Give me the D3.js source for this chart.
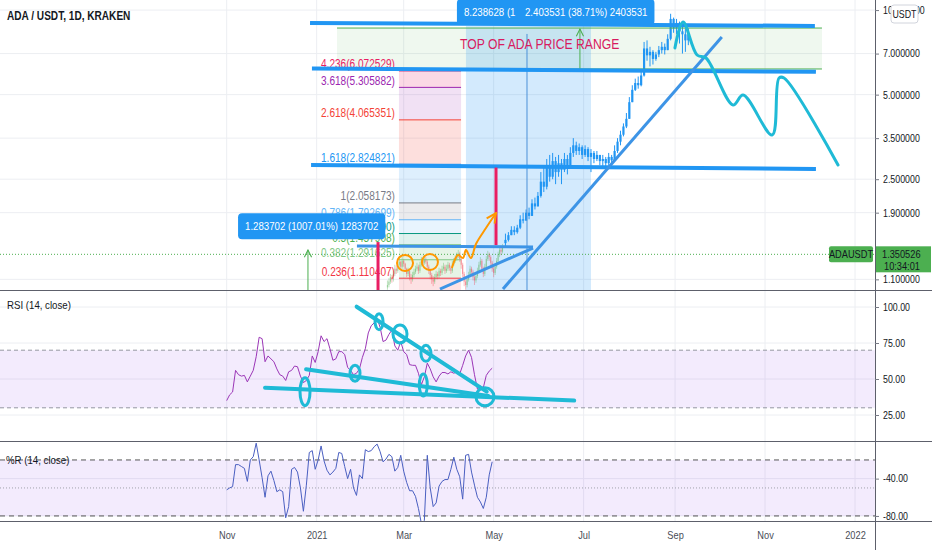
<!DOCTYPE html>
<html>
<head>
<meta charset="utf-8">
<script src="https://cdn.jsdelivr.net/npm/d3@7"></script>
<style>
  body { margin: 0; background: #fff; }
  svg text { font-family: 'Liberation Sans', Arial, sans-serif; }
</style>
</head>
<body>
<svg id="chart" width="932" height="550"></svg>
<script>
var width = 932, height = 550
var axisX = 875
var squeeze = 0.84   // TradingView's font is narrower than Liberation Sans

var monthTicks = ["2020-11-01", "2021-01-01", "2021-03-01", "2021-05-01", "2021-07-01", "2021-09-01", "2021-11-01", "2022-01-01"]
var monthLabels = ["Nov", "2021", "Mar", "May", "Jul", "Sep", "Nov", "2022"]
var priceTicks = [10, 7, 5, 3.5, 2.5, 1.9, 1.1]
var rsiTicks = [100, 75, 50, 25]
var wrTicks = [-40, -80]

// visible candles, one bar every 2 days, open = previous close
var candleStart = "2021-05-09", candleStep = 2
var candleFirstOpen = 1.48
var candleClose = [
  1.52,1.58,1.65,1.62,1.68,1.80,1.78,1.90,1.85,2.05,
  2.00,2.18,2.45,2.35,2.75,2.55,2.90,2.65,2.85,2.70,
  2.95,2.80,3.10,3.30,3.15,3.25,3.05,3.20,3.00,3.10,
  2.95,3.05,2.90,2.95,2.85,3.00,2.92,3.15,3.40,3.60,
  3.85,4.10,4.70,5.20,5.50,5.40,5.85,7.30,6.90,7.10,
  6.70,6.95,7.20,7.40,7.20,7.90,9.30,8.60,9.00,8.40,
  8.20,7.80,8.20
]
var candleHigh = [
  1.60,1.62,1.70,1.70,1.72,1.86,1.90,1.95,1.98,2.12,
  2.15,2.25,2.65,2.80,2.95,3.05,3.10,3.00,3.05,2.95,
  3.10,3.05,3.25,3.50,3.40,3.35,3.30,3.30,3.25,3.20,
  3.15,3.15,3.05,3.05,3.00,3.10,3.05,3.30,3.50,3.72,
  3.95,4.30,4.90,5.40,5.70,5.80,6.05,7.70,7.80,7.40,
  7.20,7.10,7.45,7.70,7.60,8.20,9.70,9.40,9.30,9.10,
  8.80,8.60,8.60
]
var candleLow = [
  1.44,1.50,1.58,1.58,1.60,1.66,1.74,1.80,1.80,1.88,
  1.95,2.02,2.15,2.25,2.30,2.45,2.50,2.40,2.55,2.40,
  2.65,2.60,2.75,3.00,3.05,3.05,2.95,3.00,2.90,2.65,
  2.85,2.90,2.80,2.75,2.72,2.80,2.82,2.90,3.10,3.30,
  3.55,3.80,4.10,4.70,5.15,5.25,5.35,5.80,6.60,6.30,
  6.40,6.60,6.80,7.00,6.95,7.30,7.80,8.30,8.20,7.60,
  7.00,7.10,7.50
]

// faded older daily candles under the fib tool
var oldStart = "2021-02-18"
var oldFirstOpen = 1.03
var oldClose = [
  1.05,1.08,1.12,1.10,1.15,1.20,1.18,1.24,1.27,1.22,
  1.28,1.25,1.20,1.15,1.18,1.12,1.10,1.14,1.17,1.20,
  1.22,1.18,1.24,1.28,1.26,1.30,1.27,1.22,1.18,1.14,
  1.10,1.08,1.12,1.15,1.13,1.18,1.16,1.20,1.22,1.18,
  1.20,1.24,1.21,1.18,1.25,1.28,1.30,1.33,1.36,1.30,
  1.24,1.15,1.08,1.05,1.10,1.14,1.20,1.17,1.12,1.09,
  1.13,1.18,1.24,1.28,1.20,1.15,1.22,1.30,1.35,1.32,
  1.26,1.20,1.16,1.22,1.28,1.35,1.40,1.38,1.44
]
var oldHigh = [
  1.09,1.11,1.15,1.14,1.18,1.24,1.23,1.27,1.31,1.28,
  1.32,1.30,1.26,1.21,1.21,1.19,1.15,1.17,1.20,1.23,
  1.26,1.24,1.27,1.32,1.30,1.34,1.32,1.29,1.24,1.20,
  1.16,1.13,1.15,1.18,1.17,1.21,1.20,1.23,1.26,1.24,
  1.24,1.27,1.26,1.23,1.28,1.31,1.34,1.37,1.40,1.38,
  1.32,1.26,1.17,1.10,1.13,1.17,1.23,1.22,1.19,1.14,
  1.16,1.21,1.27,1.32,1.30,1.22,1.25,1.33,1.39,1.37,
  1.34,1.28,1.22,1.25,1.31,1.38,1.44,1.43,1.47
]
var oldLow = [
  1.01,1.03,1.06,1.07,1.08,1.13,1.15,1.16,1.22,1.19,
  1.20,1.22,1.17,1.12,1.13,1.09,1.06,1.08,1.12,1.15,
  1.18,1.15,1.16,1.22,1.23,1.24,1.25,1.19,1.15,1.10,
  1.06,1.04,1.06,1.10,1.10,1.11,1.13,1.14,1.18,1.15,
  1.16,1.18,1.18,1.15,1.16,1.23,1.26,1.28,1.31,1.27,
  1.20,1.12,1.04,1.01,1.03,1.08,1.12,1.14,1.09,1.05,
  1.07,1.11,1.16,1.22,1.17,1.12,1.13,1.20,1.28,1.28,
  1.22,1.17,1.12,1.14,1.20,1.26,1.32,1.34,1.36
]

// indicators, one value every 2 days
var indStart = "2020-11-01", indStep = 2
var rsiValues = [
  35,39,41,56,53,52,52.5,48,52,56,
  65.5,79,78,62,66,64,62,57,53,52,
  49,55,56,59,58.5,52,47.5,49,52.5,66,
  61.5,69,80,76,78,71,63,64,69,69,
  67,58,56,53,54,57,65,71,82,87,
  89,92,86,76,77,81,84,73,70,76,
  69,67,60,59.5,59.5,54,46,51.5,61,57,
  51.5,48,52,54.5,54.5,53.5,55,54,55,53.5,
  59.5,66,70,65,53,43,45,44,52.5,55.5,
  57.5
]
var wrValues = [
  -52,-50,-48.6,-25,-25,-27,-29,-43,-20,-16.5,
  -2,-20,-39,-60,-37,-32,-42,-54,-52,-54,
  -82,-70,-30,-28,-33,-50,-75,-47,-12,-10,
  -30,-20,-5,-21,-31,-36,-33,-29,-12,-13,
  -27,-40,-30,-50,-58,-36,-40,-9,-11,-10,
  -5.8,-3,-11,-22,-19,-14,-16.5,-32,-28,-15,
  -32,-44,-53,-53,-59,-72,-88,-85,-15,-50,
  -70,-66,-48,-43,-41,-41,-30,-17,-30,-38,
  -62,-15,-14,-33,-47,-60,-65,-72,-60,-36,
  -22
]

var fibRatio = ["4.236", "3.618", "2.618", "1.618", "1", "0.786", "0.618", "0.5", "0.382", "0.236"]
var fibPrice = [6.072529, 5.305882, 4.065351, 2.824821, 2.058173, 1.792699, 1.601490, 1.457908, 1.291625, 1.110407]
var fibColor = ["#e91e63", "#9c27b0", "#f44336", "#2196f3", "#787b86", "#64b5f6", "#089981", "#4caf50", "#81c784", "#f23645"]
var fibSpan = [116.8, 158.9]

var lastPrice = 1.350526, lastTime = "10:34:01", symbol = "ADAUSDT"

// drawings, anchored as [days since 2020-11-01, price]
var levelLines = [[56.5, 9.00, 398.8, 8.78], [57.8, 6.20, 399.5, 6.03], [57.2, 2.81, 399.5, 2.72]]
var thinLines = [[88.3, 1.446, 207.7, 1.434], [144.6, 1.016, 207.7, 1.422], [187.3, 1.016, 335.7, 8.02]]
var rangeBox = [74.8, 403.6, 8.63, 6.17]
var dateBox = [162.2, 247, 8.78]
var dateBoxLine = 203.6
var redLines = [[102.6, 1.493, 1.008], [182.6, 2.75, 1.457]]
var projection = [[303.9, 7.33], [309.4, 9.07], [318.9, 6.92], [325, 6.75], [343.3, 4.59], [350.1, 4.98], [369.8, 3.59], [374.5, 5.73], [377.9, 5.73], [414.5, 2.81]]
var orangeRings = [[120.9, 1.258], [137.8, 1.268]]
var orangePath = [[152.7, 1.207], [156.8, 1.343], [160.2, 1.310], [162.2, 1.399], [165.6, 1.310], [169, 1.470], [175.8, 1.675], [182.6, 1.894]]
var measureLow = [7.7, 1.70, "1.283702 (1007.01%) 1283702", 55.1, 1.399]
var measureTop = [[156.1, "8.238628 (1"], [197.5, "2.403531 (38.71%) 2403531"]]
var topText = [158.2, 7.57, "TOP OF ADA PRICE RANGE"]

var rsiLines = [[26, 44, 235.6, 35], [53.8, 56.7, 177.4, 38.2], [88.1, 100.2, 176.3, 41.2]]
var rsiRings = [[53.1, 41.2], [87, 54], [103.3, 89.8], [117.5, 81.3], [135.1, 67.8], [133.3, 45.8], [175.1, 37.7]]
var ringSize = [[5, 14], [5, 8], [4, 8], [7, 9], [5, 8], [4, 11], [9, 9]]

var parse = d3.timeParse("%Y-%m-%d")
var t0 = parse("2020-11-01")
function day(n) { return new Date(t0.getTime() + n * 864e5) }
function fixed(n) { return function(d) { return d.toFixed(n) } }

var x = d3.scaleTime().domain([t0, parse("2022-01-01")]).range([226.7, 855])
var y = d3.scaleLog().domain([1.008, 10.86]).range([290, 0])
var yRsi = d3.scaleLinear().domain([0, 100]).range([451, 307])
var yWr = d3.scaleLinear().domain([-100, 0]).range([534.6, 441.3])

var svg = d3.select('#chart')
var defs = svg.append('defs')

function narrow(node) {
  var len = node.getComputedTextLength() * squeeze
  d3.select(node).attr('textLength', len).attr('lengthAdjust', 'spacingAndGlyphs')
  return len
}

function clip(id, y0, h) {
  defs.append('clipPath').attr('id', id).append('rect')
    .attr('x', 0).attr('y', y0).attr('width', axisX).attr('height', h)
}
clip('clipMain', 0, 290)
clip('clipRsi', 291, 150)
clip('clipWr', 442, 79)

function marker(id, color, size, sw) {
  defs.append('marker').attr('id', id)
    .attr('viewBox', '0 0 10 10').attr('refX', 9).attr('refY', 5)
    .attr('markerWidth', size).attr('markerHeight', size)
    .attr('markerUnits', 'userSpaceOnUse').attr('orient', 'auto')
    .append('path').attr('d', 'M1,1 L9,5 L1,9')
    .attr('fill', 'none').attr('stroke', color).attr('stroke-width', sw)
}
marker('arrGreen', '#4caf50', 9, 1.2)
marker('arrOrange', '#ff9800', 12, 1.6)

var gridColor = '#eceef2'
var monthDates = monthTicks.map(parse)

// grid
var grid = svg.append('g')
grid.selectAll('.vg').data(monthDates).join('line')
  .attr('x1', function(d) { return x(d) }).attr('x2', function(d) { return x(d) })
  .attr('y1', 0).attr('y2', 521).attr('stroke', gridColor)
grid.selectAll('.hg').data(priceTicks).join('line')
  .attr('x1', 0).attr('x2', axisX)
  .attr('y1', function(d) { return y(d) }).attr('y2', function(d) { return y(d) })
  .attr('stroke', gridColor)
grid.selectAll('.rg').data(rsiTicks).join('line')
  .attr('x1', 0).attr('x2', axisX)
  .attr('y1', function(d) { return yRsi(d) }).attr('y2', function(d) { return yRsi(d) })
  .attr('stroke', gridColor)
grid.selectAll('.wg').data(wrTicks).join('line')
  .attr('x1', 0).attr('x2', axisX)
  .attr('y1', function(d) { return yWr(d) }).attr('y2', function(d) { return yWr(d) })
  .attr('stroke', gridColor)

// ---------- main pane ----------
var main = svg.append('g').attr('clip-path', 'url(#clipMain)')

main.append('rect')
  .attr('x', x(day(rangeBox[0]))).attr('y', y(rangeBox[2]))
  .attr('width', x(day(rangeBox[1])) - x(day(rangeBox[0])))
  .attr('height', y(rangeBox[3]) - y(rangeBox[2]))
  .attr('fill', 'rgba(76,175,80,0.09)')

main.append('rect')
  .attr('x', x(day(dateBox[0]))).attr('y', y(dateBox[2]))
  .attr('width', x(day(dateBox[1])) - x(day(dateBox[0])))
  .attr('height', 290 - y(dateBox[2]))
  .attr('fill', 'rgba(33,150,243,0.2)')

// fib zones
var fibFill = ["rgba(233,30,99,0.17)", "rgba(156,39,176,0.14)", "rgba(244,67,54,0.17)", "rgba(33,150,243,0.15)",
  "rgba(120,123,134,0.15)", "rgba(100,181,246,0.15)", "rgba(8,153,129,0.13)", "rgba(76,175,80,0.14)",
  "rgba(129,199,132,0.2)", "rgba(242,54,69,0.15)"]
var fx0 = x(day(fibSpan[0])), fx1 = x(day(fibSpan[1]))
main.selectAll('.fz').data(fibPrice).join('rect')
  .attr('x', fx0).attr('width', fx1 - fx0)
  .attr('y', function(d) { return y(d) })
  .attr('height', function(d, i) { return (i < fibPrice.length - 1 ? y(fibPrice[i + 1]) : 290) - y(d) })
  .attr('fill', function(d, i) { return fibFill[i] })

function makeCandles(start, step, firstOpen, close, high, low) {
  var s = parse(start)
  return close.map(function(c, i) {
    var o = i ? close[i - 1] : firstOpen
    return { date: d3.timeDay.offset(s, i * step), open: o, close: c,
      high: Math.max(high[i], o, c), low: Math.min(low[i], o, c) }
  })
}
var oldCandles = makeCandles(oldStart, 1, oldFirstOpen, oldClose, oldHigh, oldLow)
var candles = makeCandles(candleStart, candleStep, candleFirstOpen, candleClose, candleHigh, candleLow)

function drawCandles(g, data, colorFn, bodyW) {
  g.selectAll('line').data(data).join('line')
    .attr('x1', function(d) { return x(d.date) }).attr('x2', function(d) { return x(d.date) })
    .attr('y1', function(d) { return y(d.high) }).attr('y2', function(d) { return y(d.low) })
    .attr('stroke', colorFn).attr('stroke-width', 1)
  g.selectAll('rect').data(data).join('rect')
    .attr('x', function(d) { return x(d.date) - bodyW / 2 }).attr('width', bodyW)
    .attr('y', function(d) { return y(Math.max(d.open, d.close)) })
    .attr('height', function(d) { return Math.max(1, Math.abs(y(d.open) - y(d.close))) })
    .attr('fill', colorFn)
}
drawCandles(main.append('g'), oldCandles, function(d) {
  return d.close >= d.open ? 'rgba(76,175,80,0.35)' : 'rgba(242,54,69,0.35)'
}, 1.2)
drawCandles(main.append('g'), candles, function() { return '#2196f3' }, 2.2)

// fib lines and labels
main.selectAll('.fl').data(fibPrice).join('line')
  .attr('x1', fx0).attr('x2', fx1)
  .attr('y1', function(d) { return y(d) }).attr('y2', function(d) { return y(d) })
  .attr('stroke', function(d, i) { return fibColor[i] }).attr('stroke-width', 1)
main.selectAll('.ft').data(fibPrice).join('text')
  .attr('x', fx0 - 4).attr('y', function(d) { return y(d) - 2.5 })
  .attr('text-anchor', 'end').attr('font-size', 12)
  .attr('fill', function(d, i) { return fibColor[i] })
  .text(function(d, i) { return fibRatio[i] + '(' + d.toFixed(6) + ')' })

// last price dotted line
main.append('line').attr('x1', 0).attr('x2', axisX)
  .attr('y1', y(lastPrice)).attr('y2', y(lastPrice))
  .attr('stroke', '#4caf50').attr('stroke-dasharray', '1 2')

// range box borders and arrows
main.selectAll('.rb').data([rangeBox[2], rangeBox[3]]).join('line')
  .attr('x1', x(day(rangeBox[0]))).attr('x2', x(day(rangeBox[1])))
  .attr('y1', function(d) { return y(d) }).attr('y2', function(d) { return y(d) })
  .attr('stroke', '#4caf50').attr('stroke-width', 1)
main.append('line')
  .attr('x1', x(day(239.5))).attr('x2', x(day(239.5)))
  .attr('y1', y(rangeBox[3])).attr('y2', y(rangeBox[2]) + 1)
  .attr('stroke', '#4caf50').attr('marker-end', 'url(#arrGreen)')
main.append('line')
  .attr('x1', x(day(measureLow[3]))).attr('x2', x(day(measureLow[3])))
  .attr('y1', 290).attr('y2', y(measureLow[4]))
  .attr('stroke', '#4caf50').attr('marker-end', 'url(#arrGreen)')
main.append('line')
  .attr('x1', x(day(dateBoxLine))).attr('x2', x(day(dateBoxLine)))
  .attr('y1', y(dateBox[2]) + 8).attr('y2', 290)
  .attr('stroke', '#4a90d9').attr('stroke-width', 1)

// blue levels and trend lines
main.selectAll('.lv').data(levelLines).join('line')
  .attr('x1', function(d) { return x(day(d[0])) }).attr('y1', function(d) { return y(d[1]) })
  .attr('x2', function(d) { return x(day(d[2])) }).attr('y2', function(d) { return y(d[3]) })
  .attr('stroke', '#2196f3').attr('stroke-width', 4)
main.selectAll('.tl').data(thinLines).join('line')
  .attr('x1', function(d) { return x(day(d[0])) }).attr('y1', function(d) { return y(d[1]) })
  .attr('x2', function(d) { return x(day(d[2])) }).attr('y2', function(d) { return y(d[3]) })
  .attr('stroke', '#3d94e6').attr('stroke-width', 3)

main.selectAll('.rl').data(redLines).join('line')
  .attr('x1', function(d) { return x(day(d[0])) }).attr('x2', function(d) { return x(day(d[0])) })
  .attr('y1', function(d) { return y(d[1]) }).attr('y2', function(d) { return y(d[2]) })
  .attr('stroke', '#e91e63').attr('stroke-width', 3)

// projection
main.append('path')
  .attr('d', d3.line().curve(d3.curveCatmullRom.alpha(0.5))
    .x(function(d) { return x(day(d[0])) }).y(function(d) { return y(d[1]) })(projection))
  .attr('fill', 'none').attr('stroke', '#1fbad6').attr('stroke-width', 3)
  .attr('stroke-linejoin', 'round').attr('stroke-linecap', 'round')

// orange marks
main.selectAll('.oc').data(orangeRings).join('circle')
  .attr('cx', function(d) { return x(day(d[0])) }).attr('cy', function(d) { return y(d[1]) })
  .attr('r', 8).attr('fill', 'none').attr('stroke', '#ff9800').attr('stroke-width', 2)
main.append('path')
  .attr('d', d3.line().curve(d3.curveCatmullRom.alpha(0.5))
    .x(function(d) { return x(day(d[0])) }).y(function(d) { return y(d[1]) })(orangePath))
  .attr('fill', 'none').attr('stroke', '#ff9800').attr('stroke-width', 2)
  .attr('marker-end', 'url(#arrOrange)')

main.append('text')
  .attr('x', x(day(topText[0]))).attr('y', y(topText[1]))
  .attr('dy', '0.35em').attr('font-size', 14.5).attr('fill', '#d81b60')
  .text(topText[2])

// measure labels
function labelBox(g, lx, cy, txt, fixedW) {
  var lg = g.append('g')
  var r = lg.append('rect').attr('fill', '#2196f3').attr('rx', 4)
  var t = lg.append('text').attr('x', lx + 7).attr('y', cy).attr('dy', '0.35em')
    .attr('font-size', 11.5).attr('fill', '#fff').text(txt)
  var w = fixedW || narrow(t.node()) + 14
  r.attr('x', lx).attr('y', cy - 13).attr('width', w).attr('height', 26)
  return w
}
labelBox(main, x(day(measureTop[0][0])), 12, measureTop[0][1], x(day(measureTop[1][0])) - x(day(measureTop[0][0])) + 10)
labelBox(main, x(day(measureTop[1][0])), 12, measureTop[1][1])
labelBox(main, x(day(measureLow[0])), y(measureLow[1]), measureLow[2])

// ---------- RSI pane ----------
var rsi = svg.append('g').attr('clip-path', 'url(#clipRsi)')
var indStartDate = parse(indStart)
rsi.append('rect').attr('x', 0).attr('width', axisX)
  .attr('y', yRsi(70)).attr('height', yRsi(30) - yRsi(70))
  .attr('fill', 'rgba(149,76,233,0.11)')
rsi.selectAll('.rd').data([70, 30]).join('line')
  .attr('x1', 0).attr('x2', axisX)
  .attr('y1', function(d) { return yRsi(d) }).attr('y2', function(d) { return yRsi(d) })
  .attr('stroke', '#9598a1').attr('stroke-dasharray', '4 3')
rsi.append('path')
  .attr('d', d3.line()
    .x(function(d, i) { return x(d3.timeDay.offset(indStartDate, i * indStep)) })
    .y(function(d) { return yRsi(d) })(rsiValues))
  .attr('fill', 'none').attr('stroke', '#9b36b7').attr('stroke-width', 1)
rsi.selectAll('.rln').data(rsiLines).join('line')
  .attr('x1', function(d) { return x(day(d[0])) }).attr('y1', function(d) { return yRsi(d[1]) })
  .attr('x2', function(d) { return x(day(d[2])) }).attr('y2', function(d) { return yRsi(d[3]) })
  .attr('stroke', '#1fbad6').attr('stroke-width', 4).attr('stroke-linecap', 'round')
rsi.selectAll('.rr').data(rsiRings).join('ellipse')
  .attr('cx', function(d) { return x(day(d[0])) }).attr('cy', function(d) { return yRsi(d[1]) })
  .attr('rx', function(d, i) { return ringSize[i][0] }).attr('ry', function(d, i) { return ringSize[i][1] })
  .attr('fill', 'none').attr('stroke', '#1fbad6').attr('stroke-width', 3)

// ---------- %R pane ----------
var wr = svg.append('g').attr('clip-path', 'url(#clipWr)')
wr.append('rect').attr('x', 0).attr('width', axisX)
  .attr('y', yWr(-20)).attr('height', yWr(-80) - yWr(-20))
  .attr('fill', 'rgba(149,76,233,0.11)')
wr.selectAll('.wd').data([-20, -80]).join('line')
  .attr('x1', 0).attr('x2', axisX)
  .attr('y1', function(d) { return yWr(d) }).attr('y2', function(d) { return yWr(d) })
  .attr('stroke', '#555').attr('stroke-dasharray', '5 4')
wr.append('line').attr('x1', 0).attr('x2', axisX)
  .attr('y1', yWr(-50)).attr('y2', yWr(-50))
  .attr('stroke', '#a0a3ab').attr('stroke-dasharray', '1 2')
wr.append('path')
  .attr('d', d3.line()
    .x(function(d, i) { return x(d3.timeDay.offset(indStartDate, i * indStep)) })
    .y(function(d) { return yWr(d) })(wrValues))
  .attr('fill', 'none').attr('stroke', '#4a5fc1').attr('stroke-width', 1)

// ---------- frame & axes ----------
var frame = svg.append('g').attr('stroke', '#5d606b')
frame.append('line').attr('x1', 0).attr('x2', width).attr('y1', 290.5).attr('y2', 290.5)
frame.append('line').attr('x1', 0).attr('x2', width).attr('y1', 441.5).attr('y2', 441.5)
frame.append('line').attr('x1', 0).attr('x2', width).attr('y1', 521.5).attr('y2', 521.5)
frame.append('line').attr('x1', axisX + 0.5).attr('x2', axisX + 0.5).attr('y1', 0).attr('y2', height)

function styleAxis(g, size) {
  g.select('.domain').remove()
  g.selectAll('.tick line').attr('stroke', '#787b86')
  g.selectAll('.tick text').attr('fill', '#131722').attr('font-size', size)
    .attr('font-family', null)
}
svg.append('g').attr('transform', 'translate(' + axisX + ',0)')
  .call(d3.axisRight(y).tickValues(priceTicks).tickFormat(fixed(6)).tickSize(4).tickPadding(4))
  .call(styleAxis, 10.5)
svg.append('g').attr('transform', 'translate(' + axisX + ',0)')
  .call(d3.axisRight(yRsi).tickValues(rsiTicks).tickFormat(fixed(2)).tickSize(4).tickPadding(4))
  .call(styleAxis, 10.5)
svg.append('g').attr('transform', 'translate(' + axisX + ',0)')
  .call(d3.axisRight(yWr).tickValues(wrTicks).tickFormat(fixed(2)).tickSize(4).tickPadding(4))
  .call(styleAxis, 10.5)
svg.append('g').attr('transform', 'translate(0,521)')
  .call(d3.axisBottom(x).tickValues(monthDates)
    .tickFormat(function(d, i) { return monthLabels[i] }).tickSize(0).tickPadding(10))
  .call(styleAxis, 11)
  .selectAll('.tick text').attr('fill', '#4a4d57')

// currency badge
svg.append('rect').attr('x', 891).attr('y', 5).attr('width', 27).attr('height', 18).attr('rx', 3)
  .attr('fill', '#fff').attr('stroke', '#d1d4dc')
svg.append('text').attr('x', 904.5).attr('y', 14).attr('dy', '0.35em').attr('text-anchor', 'middle')
  .attr('font-size', 10.5).attr('fill', '#131722').text('USDT')

// last price labels
var ly = y(lastPrice)
svg.append('rect').attr('x', 829).attr('y', ly - 8).attr('width', 44).attr('height', 16).attr('rx', 2).attr('fill', '#4caf50')
svg.append('text').attr('x', 851).attr('y', ly).attr('dy', '0.35em').attr('text-anchor', 'middle')
  .attr('font-size', 11).attr('fill', '#131722').text(symbol)
svg.append('rect').attr('x', axisX + 1).attr('y', ly - 8).attr('width', 55).attr('height', 26).attr('fill', '#4caf50')
svg.append('text').attr('x', 882).attr('y', ly).attr('dy', '0.35em')
  .attr('font-size', 11).attr('fill', '#131722').text(lastPrice.toFixed(6))
svg.append('text').attr('x', 884).attr('y', ly + 12).attr('dy', '0.35em')
  .attr('font-size', 11).attr('fill', '#131722').text(lastTime)

// pane titles
svg.append('text').attr('x', 7).attr('y', 16).attr('dy', '0.35em')
  .attr('font-size', 12).attr('font-weight', 'bold').attr('fill', '#131722')
  .text('ADA / USDT, 1D, KRAKEN')
svg.append('text').attr('x', 7).attr('y', 305).attr('dy', '0.35em')
  .attr('font-size', 11.5).attr('fill', '#131722').text('RSI (14, close)')
svg.append('text').attr('x', 6).attr('y', 460).attr('dy', '0.35em')
  .attr('font-size', 11.5).attr('fill', '#131722').text('%R (14, close)')

// condense every text not already condensed
svg.selectAll('text').each(function() {
  if (!this.hasAttribute('textLength')) narrow(this)
})
</script>
</body>
</html>
